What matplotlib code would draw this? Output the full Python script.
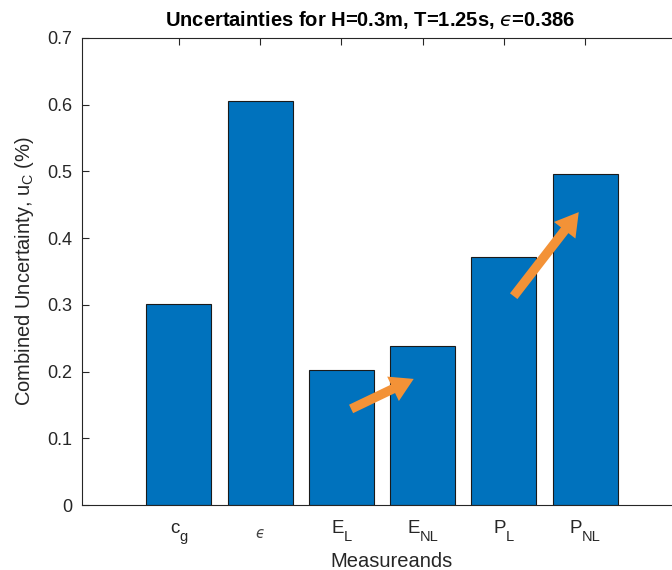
import matplotlib
matplotlib.use("Agg")
import matplotlib.pyplot as plt
import numpy as np

plt.rcParams['font.family'] = ['Liberation Sans', 'DejaVu Sans']
plt.rcParams['mathtext.fontset'] = 'dejavusans'

# Measurands (symbol, subscript) and their combined uncertainties (%)
symbols = ['c', r'$ϵ$', 'E', 'E', 'P', 'P']
subscripts = ['g', '', 'L', 'NL', 'L', 'NL']
values = [0.302, 0.605, 0.202, 0.238, 0.372, 0.496]
yticks = [0, 0.1, 0.2, 0.3, 0.4, 0.5, 0.6, 0.7]

# Trend arrows (data coordinates): (tail x, tail y, head x, head y)
arrows = [(3.12, 0.144, 3.89, 0.189),
          (5.12, 0.313, 5.92, 0.439)]

W, H = 672, 570
fig = plt.figure(figsize=(W / 100, H / 100), dpi=100)
ax = fig.add_axes([82 / W, 65 / H, 620 / W, 467 / H])

x = np.arange(1, len(values) + 1)
ax.bar(x, values, width=0.8, color='#0072BD', edgecolor='#1a1a1a', linewidth=0.8, zorder=2)

ax.set_xlim(-0.19, -0.19 + 620 / 81.3)
ax.set_ylim(0, 0.7)
ax.set_xticks(x)
ax.set_xticklabels([])
ax.set_yticks(yticks)
ax.set_yticklabels(['0' if v == 0 else f'{v:.1f}' for v in yticks])

for s in ax.spines.values():
    s.set_color('#262626')
    s.set_linewidth(0.8)
ax.tick_params(direction='in', top=True, right=True, length=5, width=0.8,
               colors='#262626', labelsize=13, pad=7)
for lbl in ax.get_yticklabels():
    lbl.set_color('#262626')

# Category labels with dropped subscripts
fig.canvas.draw()
renderer = fig.canvas.get_renderer()
for xi, sym, sub in zip(x, symbols, subscripts):
    is_math = sym.startswith('$')
    main_size = 10.5 if is_math else 13.5
    main_y = -16 if is_math else -11
    t_main = ax.annotate(sym, xy=(xi, 0), xycoords=('data', 'axes fraction'),
                         xytext=(0, main_y), textcoords='offset points',
                         ha='left', va='top', fontsize=main_size,
                         color='#444444' if is_math else '#262626')
    w_main = t_main.get_window_extent(renderer).width
    if sub:
        t_sub = ax.annotate(sub, xy=(xi, 0), xycoords=('data', 'axes fraction'),
                            xytext=(0, -18), textcoords='offset points',
                            ha='left', va='top', fontsize=10.5, color='#262626')
        w_sub = t_sub.get_window_extent(renderer).width
    else:
        t_sub, w_sub = None, 0
    total_pt = (w_main + w_sub) * 72 / fig.dpi
    start = -total_pt / 2
    t_main.set_position((start, main_y))
    if t_sub is not None:
        t_sub.set_position((start + w_main * 72 / fig.dpi, -18))

ax.text(370 / W, 1 - 20 / H, r'Uncertainties for H=0.3m, T=1.25s, $ϵ$=0.386',
        transform=fig.transFigure, ha='center', va='center',
        fontsize=14.5, fontweight='bold', color='black')
ax.set_xlabel('Measureands', fontsize=14.5, color='#262626', labelpad=27)
ax.set_ylabel(r'Combined Uncertainty, u$_\mathregular{C}$ (%)', fontsize=14.5,
              color='#262626', labelpad=8)

for x0, y0, x1, y1 in arrows:
    ax.annotate('', xy=(x1, y1), xytext=(x0, y0),
                arrowprops=dict(arrowstyle='simple,head_length=1.1,head_width=1.3,tail_width=0.45',
                                color='#F39237', lw=0, shrinkA=0, shrinkB=0,
                                mutation_scale=15),
                zorder=5)

fig.savefig('out.png', dpi=100)
